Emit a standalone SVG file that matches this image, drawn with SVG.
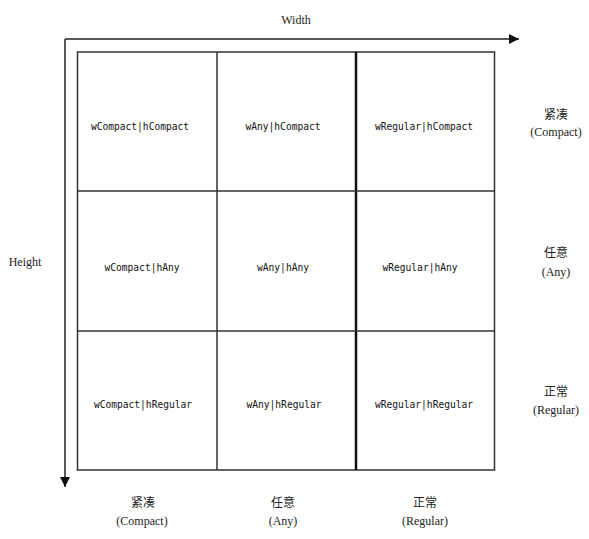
<svg xmlns="http://www.w3.org/2000/svg" width="589" height="539" viewBox="0 0 589 539">
<style>
.cell{fill:none;stroke:#333;stroke-width:1.5}
.lbl{font-family:"DejaVu Sans Mono","Liberation Mono",monospace;font-size:9.6px;fill:#111;text-anchor:middle}
.ser{font-family:"Liberation Serif","Noto Sans CJK SC",serif;font-size:12px;fill:#222;text-anchor:middle}
.axis{stroke:#222;stroke-width:1.5;fill:none}
</style>
<defs>
<marker id="arr" markerWidth="10" markerHeight="10" refX="10" refY="5" orient="auto" markerUnits="userSpaceOnUse">
<path d="M0,0 L10,5 L0,10 Z" fill="#111"/>
</marker>
</defs>
<rect width="589" height="539" fill="#fff"/>
<g id="connectors">
<line class="axis" x1="65" y1="39" x2="519" y2="39" marker-end="url(#arr)"/>
<line class="axis" x1="65" y1="39" x2="65" y2="487" marker-end="url(#arr)"/>
</g>
<g id="grid">
<rect class="cell" x="77.5" y="52" width="417" height="418"/>
<line class="cell" x1="217" y1="52" x2="217" y2="470"/>
<line class="cell" x1="356" y1="52" x2="356" y2="470" style="stroke-width:2.5;stroke:#111"/>
<line class="cell" x1="77.5" y1="191" x2="494.5" y2="191"/>
<line class="cell" x1="77.5" y1="331" x2="494.5" y2="331"/>
</g>
<g id="c11"><text class="lbl" x="140" y="130">wCompact|hCompact</text></g>
<g id="c12"><text class="lbl" x="283" y="130">wAny|hCompact</text></g>
<g id="c13"><text class="lbl" x="424" y="130">wRegular|hCompact</text></g>
<g id="c21"><text class="lbl" x="142" y="271">wCompact|hAny</text></g>
<g id="c22"><text class="lbl" x="283" y="271">wAny|hAny</text></g>
<g id="c23"><text class="lbl" x="420" y="271">wRegular|hAny</text></g>
<g id="c31"><text class="lbl" x="143" y="408">wCompact|hRegular</text></g>
<g id="c32"><text class="lbl" x="284" y="408">wAny|hRegular</text></g>
<g id="c33"><text class="lbl" x="424" y="408">wRegular|hRegular</text></g>
<g id="axis-labels">
<text class="ser" x="296" y="24">Width</text>
<text class="ser" x="25" y="266">Height</text>
<text class="ser" x="556" y="119">紧凑</text>
<text class="ser" x="556" y="136">(Compact)</text>
<text class="ser" x="556" y="257">任意</text>
<text class="ser" x="556" y="276">(Any)</text>
<text class="ser" x="556" y="396">正常</text>
<text class="ser" x="556" y="414">(Regular)</text>
<text class="ser" x="143" y="507">紧凑</text>
<text class="ser" x="142" y="525">(Compact)</text>
<text class="ser" x="283" y="507">任意</text>
<text class="ser" x="283" y="525">(Any)</text>
<text class="ser" x="425" y="507">正常</text>
<text class="ser" x="425" y="525">(Regular)</text>
</g>
</svg>
